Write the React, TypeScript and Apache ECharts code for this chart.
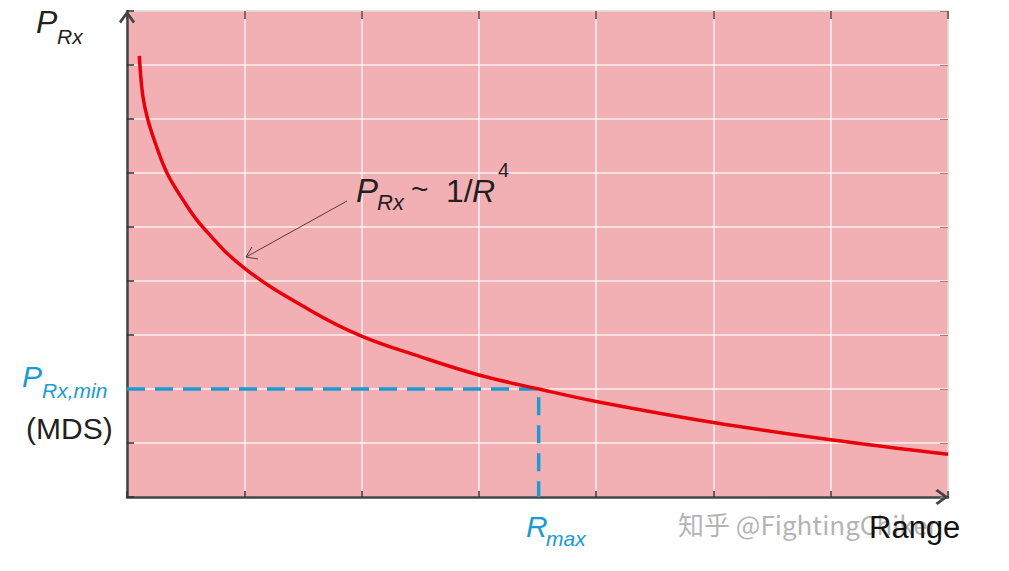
import { useEffect, useRef } from "react";
import * as echarts from "echarts";

// received power vs range (x: range, y: power, grid units)
const rangeValues = [0.105, 0.134, 0.176, 0.25, 0.341, 0.469, 0.645, 1.0, 1.56, 2.0, 2.498, 3.0, 3.51, 4.0, 5.0, 6.0, 7.0];
const powerValues = [8.17, 7.44, 7.0, 6.5, 6.0, 5.53, 5.0, 4.24, 3.46, 2.98, 2.6, 2.26, 2.0, 1.77, 1.38, 1.06, 0.79];

// minimum detectable signal and the range where the curve meets it
const prxMin = 2.0;
const rMax = 3.51;

const xTicks = [0, 7, 1];
const yTicks = [0, 9, 1];

const FONT = "Liberation Sans, Arial, Helvetica, sans-serif";
const BLUE = "#1a9bd1";
const DARK = "#231f20";
const AXIS = "#444";

const chevron = "path://M8,0 L16,11 L14,13 L8,4.6 L2,13 L0,11 Z";

const txt = (
    text: string,
    x: number,
    y: number,
    size: number,
    color: string,
    italic = false,
    extra: any = {}
) => ({
    type: "text",
    x,
    y,
    z: 100,
    style: {
        text,
        fontSize: size,
        fontFamily: FONT,
        fontStyle: italic ? "italic" : "normal",
        fill: color,
        align: "left",
        verticalAlign: "middle",
        ...extra,
    },
});

const App = () => {
    const chartRef = useRef<HTMLDivElement>(null);

    useEffect(() => {
        if (!chartRef.current) return;
        const chart = echarts.init(chartRef.current, null, { renderer: "svg" });

        const curve = rangeValues.map((r, i) => [r, powerValues[i]]);
        const mds = [
            [0, prxMin],
            [rMax, prxMin],
            [rMax, 0],
        ];

        // top / right axes only carry the small inner ticks on the frame
        const frameAxis = {
            axisLabel: { show: false },
            splitLine: { show: false },
            axisLine: { show: false, onZero: false },
        };

        const options: any = {
            animation: false,
            grid: {
                left: 127,
                top: 11,
                right: 61,
                bottom: 74,
                show: true,
                backgroundColor: "#f2b0b5",
                borderColor: "#8b6a6a",
                borderWidth: 1,
            },
            xAxis: [
                {
                    type: "value",
                    min: xTicks[0],
                    max: xTicks[1],
                    interval: xTicks[2],
                    axisLine: {
                        show: true,
                        onZero: false,
                        symbol: ["none", chevron],
                        symbolSize: [16, 13],
                        symbolOffset: [0, -6],
                        lineStyle: { color: AXIS, width: 2.5 },
                    },
                    axisTick: { inside: true, length: 6, lineStyle: { color: "#333", width: 1.5 } },
                    axisLabel: { show: false },
                    splitLine: { lineStyle: { color: "rgba(255,255,255,0.8)", width: 1.5 } },
                },
                {
                    type: "value",
                    position: "top",
                    min: xTicks[0],
                    max: xTicks[1],
                    interval: xTicks[2],
                    axisTick: { inside: true, length: 8, lineStyle: { color: "#5a4040", width: 1.5 } },
                    ...frameAxis,
                },
            ],
            yAxis: [
                {
                    type: "value",
                    min: yTicks[0],
                    max: yTicks[1],
                    interval: yTicks[2],
                    axisLine: {
                        show: true,
                        onZero: false,
                        symbol: ["none", chevron],
                        symbolSize: [16, 13],
                        symbolOffset: [0, -6],
                        lineStyle: { color: AXIS, width: 2.5 },
                    },
                    axisTick: { inside: true, length: 7, lineStyle: { color: "#333", width: 1.5 } },
                    axisLabel: { show: false },
                    splitLine: { lineStyle: { color: "rgba(255,255,255,0.8)", width: 1.5 } },
                },
                {
                    type: "value",
                    position: "right",
                    min: yTicks[0],
                    max: yTicks[1],
                    interval: yTicks[2],
                    axisTick: { inside: true, length: 8, lineStyle: { color: "#9a7f7f", width: 1 } },
                    ...frameAxis,
                },
            ],
            series: [
                {
                    name: "MDS",
                    type: "line",
                    data: mds,
                    symbol: "none",
                    z: 3,
                    lineStyle: { color: BLUE, width: 3.5, type: [18, 10] },
                },
                {
                    name: "PRx",
                    type: "line",
                    data: curve,
                    symbol: "none",
                    smooth: 0.4,
                    z: 4,
                    lineStyle: { color: "#e8000b", width: 3.5 },
                },
            ],
            graphic: [
                // y axis title
                txt("P", 36, 22, 32, DARK, true),
                txt("Rx", 57, 36, 21, DARK, true),
                // annotation
                txt("P", 356, 190, 33, DARK, true),
                txt("Rx", 377, 202, 22, DARK, true),
                txt("~", 411, 188, 30, DARK),
                txt("1/", 446, 191, 32, DARK),
                txt("R", 472, 191, 32, DARK, true),
                txt("4", 498, 170, 20, DARK),
                {
                    type: "line",
                    z: 100,
                    shape: { x1: 347, y1: 201, x2: 246, y2: 257 },
                    style: { stroke: "#5a3a3a", lineWidth: 1 },
                },
                {
                    type: "polyline",
                    z: 100,
                    shape: { points: [[252, 247], [246, 257], [258, 259]] },
                    style: { stroke: "#5a3a3a", lineWidth: 1, fill: null },
                },
                // minimum detectable signal
                txt("P", 22, 376, 30, BLUE, true),
                txt("Rx,min", 42, 390, 21, BLUE, true),
                txt("(MDS)", 26, 428, 30, DARK),
                // max range
                txt("R", 526, 526, 30, BLUE, true),
                txt("max", 546, 538, 21, BLUE, true),
                // watermark
                txt("知乎 @FightingChiken", 678, 523, 26, "rgba(160,160,160,0.8)", false, {
                    fontFamily: "Noto Sans CJK SC, " + FONT,
                    stroke: "rgba(255,255,255,0.7)",
                    lineWidth: 1,
                }),
                // x axis title
                txt("Range", 869, 527, 31, "#111"),
            ],
        };

        chart.setOption(options);
        const handleResize = () => chart.resize();
        window.addEventListener("resize", handleResize);

        return () => {
            chart.dispose();
            window.removeEventListener("resize", handleResize);
        };
    }, []);

    return (
        <div
            ref={chartRef}
            style={{ position: "fixed", left: 0, top: 0, width: "1009px", height: "571px", background: "#fff" }}
        />
    );
};

export default App;
